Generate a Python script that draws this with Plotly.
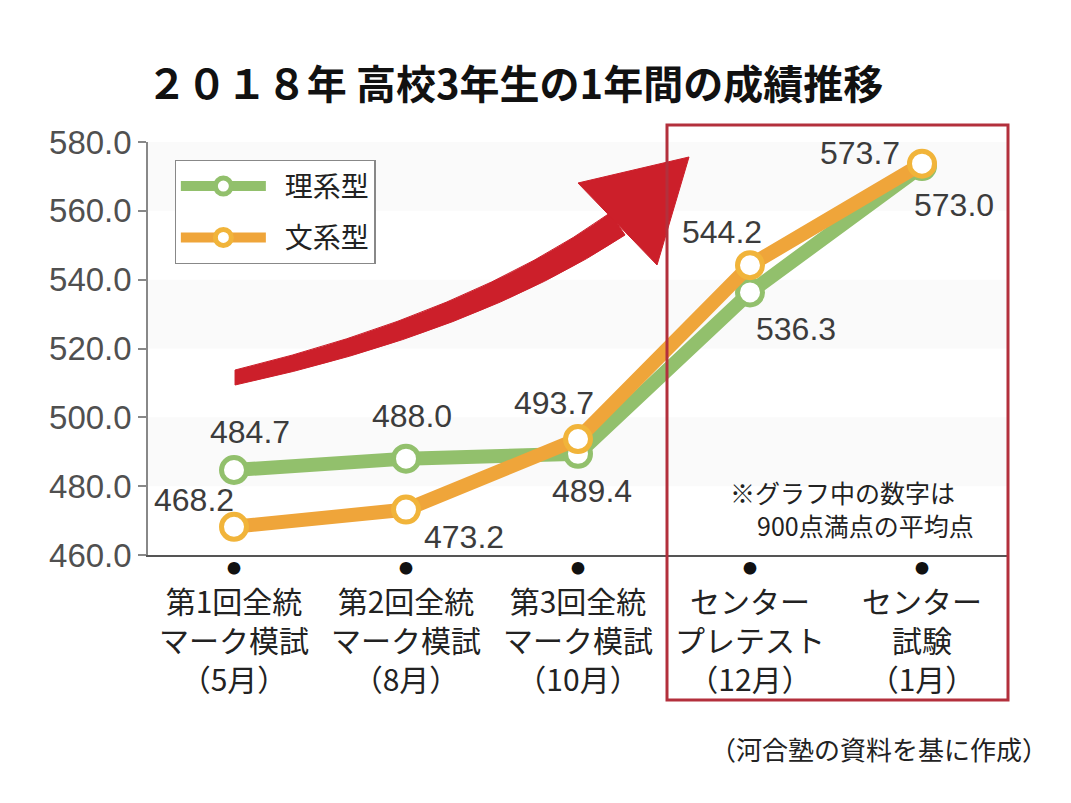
import plotly.graph_objects as go

# data
categories = ["第1回全統<br>マーク模試<br>（5月）",
              "第2回全統<br>マーク模試<br>（8月）",
              "第3回全統<br>マーク模試<br>（10月）",
              "センター<br>プレテスト<br>（12月）",
              "センター<br>試験<br>（1月）"]
rikei = [484.7, 488.0, 489.4, 536.3, 573.0]
bunkei = [468.2, 473.2, 493.7, 544.2, 573.7]
y_ticks = [460, 480, 500, 520, 540, 560, 580]

# value label offsets in px (x, y) per point
rikei_off = [(16, 38), (6, 43), (14, -37), (46, -37), (32, -39)]
bunkei_off = [(-40, 27), (58, -27), (-24, 36), (-28, 33), (-62, 11)]

green = "#92c06c"
orange = "#efa53a"
xs = list(range(len(categories)))

# plot area in page pixels, used to place the decorations
PX0, PY0, PW, PH = 148, 555, 860, 413


def P(x, y):
    return (x - PX0) / PW, (PY0 - y) / PH


def path(points, cmds):
    out = []
    for c, pts in zip(cmds, points):
        coords = " ".join("%.4f,%.4f" % P(*p) for p in pts)
        out.append(c + " " + coords)
    return " ".join(out) + " Z"


fig = go.Figure()
fig.add_trace(go.Scatter(
    x=xs, y=rikei, name="\u2002理系型", mode="lines+markers", legendgroup="a",
    line=dict(color=green, width=14),
    marker=dict(symbol="circle", size=25, color="white", line=dict(color=green, width=5)),
))
fig.add_trace(go.Scatter(
    x=xs, y=bunkei, name="\u2002文系型", mode="lines+markers", legendgroup="b",
    line=dict(color=orange, width=14),
    marker=dict(symbol="circle", size=25, color="white", line=dict(color="#f1b43a", width=5)),
))

label_font = dict(family="Liberation Sans, Arial, sans-serif", size=32, color="#3c3c3c")
for vals, offs in ((rikei, rikei_off), (bunkei, bunkei_off)):
    for i, (v, (dx, dy)) in enumerate(zip(vals, offs)):
        fig.add_annotation(x=i, y=v, text=f"{v:.1f}", showarrow=False,
                           xshift=dx, yshift=dy, font=label_font)

# small dots above the category labels
for i in xs:
    fig.add_annotation(x=i, y=0, xref="x", yref="paper", yshift=-24, text="●",
                       showarrow=False, font=dict(size=14, color="#111111"))

shapes = []
# faint background bands
for lo in (560, 520, 480):
    shapes.append(dict(type="rect", xref="paper", yref="y", x0=0, x1=1, y0=lo, y1=lo + 20,
                       fillcolor="#fafafa", line=dict(width=0), layer="below"))

# red curved arrow (tapered body + head)
body = path([[(235, 370)], [(470, 313), (610, 213)], [(625, 235)], [(476, 333), (235, 385)]],
            ["M", "Q", "L", "Q"])
head = path([[(578, 183)], [(689, 157)], [(657, 265)]], ["M", "L", "L"])
for p in (body, head):
    shapes.append(dict(type="path", xref="paper", yref="paper", path=p,
                       line=dict(color="#cc1f2a", width=1), fillcolor="#cc1f2a", layer="above"))

# red box around the last two
bx0, by0 = P(667, 700)
bx1, by1 = P(1008, 125)
shapes.append(dict(type="rect", xref="paper", yref="paper", x0=bx0, x1=bx1, y0=by0, y1=by1,
                   line=dict(color="#b3303c", width=3), fillcolor="rgba(0,0,0,0)", layer="above"))

fig.update_layout(
    width=1071, height=803,
    margin=dict(l=140, r=71, t=134, b=256, autoexpand=False),
    paper_bgcolor="white", plot_bgcolor="white",
    font=dict(family="Noto Sans CJK JP, sans-serif", color="#222222"),
    shapes=shapes,
    title=dict(text="<b>２０１８年 高校3年生の1年間の成績推移</b>",
               x=0.4734, xanchor="center", y=0.904, yanchor="middle",
               font=dict(family="Noto Sans CJK JP, sans-serif", size=40, color="#111111")),
    showlegend=True,
    legend=dict(x=0.031, y=0.956, xanchor="left", yanchor="top",
                bgcolor="white", bordercolor="#888888", borderwidth=1.2,
                font=dict(family="Noto Sans CJK JP, sans-serif", size=28, color="#222222"),
                itemwidth=85, tracegroupgap=12),
    xaxis=dict(range=[-0.5, 4.5], tickmode="array", tickvals=xs, ticktext=categories,
               showline=True, linecolor="#555555", linewidth=1.5, ticks="",
               showgrid=False, zeroline=False, ticklabelstandoff=20, automargin=False,
               tickfont=dict(family="Noto Sans CJK JP, sans-serif", size=30, color="#222222")),
    yaxis=dict(range=[460, 580], tickmode="array", tickvals=y_ticks,
               ticktext=[f"{t:.1f}" for t in y_ticks],
               showline=True, linecolor="#888888", linewidth=1.5,
               ticks="outside", ticklen=8, tickcolor="#888888", tickwidth=1.5,
               showgrid=False, zeroline=False, automargin=False,
               tickfont=dict(family="Liberation Sans, Arial, sans-serif", size=33, color="#505050")),
)

note_font = dict(family="Noto Sans CJK JP, sans-serif", size=25, color="#222222")
nx, ny = P(728, 492)
fig.add_annotation(x=nx, y=ny, xref="paper", yref="paper", xanchor="left", yanchor="middle",
                   showarrow=False, text="※グラフ中の数字は", font=note_font)
nx, ny = P(755, 525)
fig.add_annotation(x=nx, y=ny, xref="paper", yref="paper", xanchor="left", yanchor="middle",
                   showarrow=False, text="900点満点の平均点", font=note_font)
sx, sy = P(1050, 748)
fig.add_annotation(x=sx, y=sy, xref="paper", yref="paper", xanchor="right", yanchor="middle",
                   showarrow=False, text="（河合塾の資料を基に作成）",
                   font=dict(family="Noto Sans CJK JP, sans-serif", size=26, color="#222222"))

fig.write_html("out.html")
